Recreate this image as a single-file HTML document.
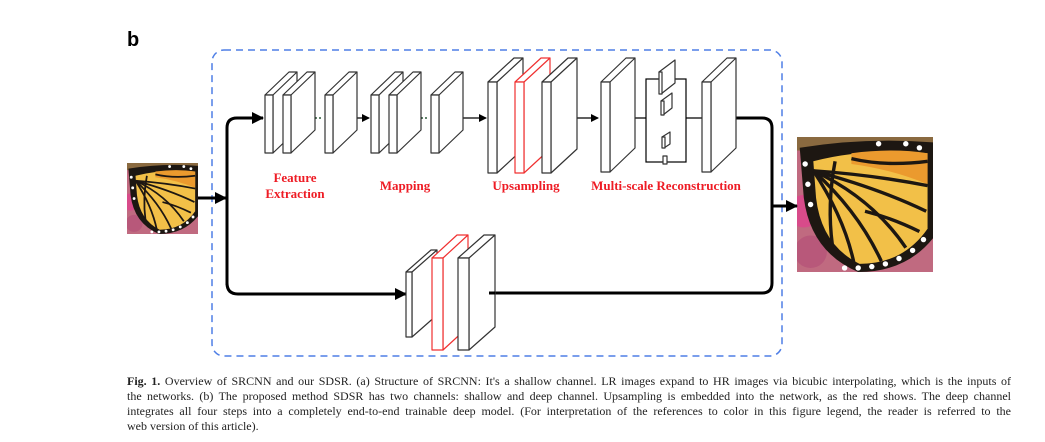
<!DOCTYPE html>
<html><head><meta charset="utf-8"><style>
body{margin:0;background:#fff;width:1045px;height:442px;overflow:hidden;position:relative;font-family:"Liberation Serif",serif}
.cap{position:absolute;left:127px;top:374px;width:884px;font-size:12px;line-height:15px;color:#222}
.cap div{text-align:justify;text-align-last:justify;height:15px;white-space:nowrap}
.cap div.l{text-align-last:left}
</style></head><body>
<svg width="1045" height="442" style="position:absolute;left:0;top:0" xmlns="http://www.w3.org/2000/svg">
<defs>
<symbol id="bf" viewBox="0 0 100 100" preserveAspectRatio="none">
<rect width="100" height="100" fill="#c06a80"/>
<rect x="0" y="0" width="100" height="10" fill="#8a6a40"/>
<circle cx="5" cy="55" r="12" fill="#d84b8a"/>
<circle cx="10" cy="85" r="12" fill="#b8587a"/>
<path d="M2 8 Q50 0 100 4 L100 75 Q80 100 45 100 Q10 85 5 45 Z" fill="#1d1712"/>
<path d="M12 18 Q50 8 96 12 L96 68 Q78 94 46 94 Q18 80 14 45 Z" fill="#f2c048"/>
<path d="M40 12 Q70 8 96 12 L96 35 Q70 24 40 20 Z" fill="#eb9a2e"/>
<g stroke="#1d1712" stroke-width="2.5" fill="none">
<path d="M12 25 Q35 60 42 94"/><path d="M12 25 Q45 55 62 92"/><path d="M12 25 Q55 45 80 82"/><path d="M12 25 Q60 38 95 55"/>
<path d="M12 25 Q55 28 96 36"/><path d="M28 18 Q22 50 26 80"/><path d="M40 16 Q65 22 96 18"/><path d="M50 55 Q70 60 90 70"/>
</g>
<g fill="#fff">
<circle cx="35" cy="97" r="2"/><circle cx="45" cy="97" r="2"/><circle cx="55" cy="96" r="2"/><circle cx="65" cy="94" r="2"/><circle cx="75" cy="90" r="2"/><circle cx="85" cy="84" r="2"/><circle cx="93" cy="76" r="2"/><circle cx="6" cy="20" r="2"/><circle cx="8" cy="35" r="2"/><circle cx="10" cy="50" r="2"/><circle cx="80" cy="5" r="2"/><circle cx="90" cy="8" r="2"/><circle cx="60" cy="5" r="2"/>
</g>
</symbol>
<marker id="ah" markerWidth="8" markerHeight="8" refX="7" refY="4" orient="auto" markerUnits="userSpaceOnUse"><path d="M0 0L8 4L0 8Z" fill="#000"/></marker>
<marker id="ahb" markerWidth="12" markerHeight="12" refX="11" refY="6" orient="auto" markerUnits="userSpaceOnUse"><path d="M0 0L12 6L0 12Z" fill="#000"/></marker>
</defs>
<text x="127" y="46" font-family="Liberation Sans" font-weight="bold" font-size="20">b</text>
<rect x="212" y="50" width="570" height="306" rx="12" fill="none" stroke="#4f7fe6" stroke-width="1.5" stroke-dasharray="7,5"/>
<use href="#bf" x="127" y="163" width="71" height="71"/>
<use href="#bf" x="797" y="137" width="136" height="135"/>
<g stroke="#000" stroke-width="3" fill="none">
<path d="M198 198 H226" marker-end="url(#ahb)"/>
<path d="M227 285 V128 Q227 118 237 118 H263" marker-end="url(#ahb)"/>
<path d="M227 200 V283 Q227 294 238 294 H406" marker-end="url(#ahb)"/>
<path d="M733 118 H762 Q772 118 772 128 V283 Q772 293 762 293 H492"/>
<path d="M772 206 H797" marker-end="url(#ahb)"/>
</g>
<g stroke="#000" stroke-width="1.2" fill="none">
<path d="M351 118 H369" marker-end="url(#ah)"/>
<path d="M459 118 H486" marker-end="url(#ah)"/>
<path d="M568 118 H598" marker-end="url(#ah)"/>
<path d="M630 118 H646 M686 118 H702"/>
<rect x="646" y="79" width="40" height="83"/>
</g>
<g fill="#2e5a3a"><circle cx="312" cy="118" r="1"/><circle cx="316" cy="118" r="1"/><circle cx="320" cy="118" r="1"/><circle cx="418" cy="118" r="1"/><circle cx="422" cy="118" r="1"/><circle cx="426" cy="118" r="1"/></g>
<g fill="#fff" stroke-width="1.2" stroke-linejoin="round">
<g stroke="#333">
<path d="M265 95 L289 72 H297 L273 95 Z M273 95 L297 72 V130 L273 153 Z"/><rect x="265" y="95" width="8" height="58"/>
<path d="M283 95 L307 72 H315 L291 95 Z M291 95 L315 72 V130 L291 153 Z"/><rect x="283" y="95" width="8" height="58"/>
<path d="M325 95 L349 72 H357 L333 95 Z M333 95 L357 72 V130 L333 153 Z"/><rect x="325" y="95" width="8" height="58"/>
<path d="M371 95 L395 72 H403 L379 95 Z M379 95 L403 72 V130 L379 153 Z"/><rect x="371" y="95" width="8" height="58"/>
<path d="M389 95 L413 72 H421 L397 95 Z M397 95 L421 72 V130 L397 153 Z"/><rect x="389" y="95" width="8" height="58"/>
<path d="M431 95 L455 72 H463 L439 95 Z M439 95 L463 72 V130 L439 153 Z"/><rect x="431" y="95" width="8" height="58"/>
<path d="M488 82 L514 58 H523 L497 82 Z M497 82 L523 58 V149 L497 173 Z"/><rect x="488" y="82" width="9" height="91"/>
</g>
<g stroke="#f03030">
<path d="M515 82 L541 58 H550 L524 82 Z M524 82 L550 58 V149 L524 173 Z"/><rect x="515" y="82" width="9" height="91"/>
</g>
<g stroke="#333">
<path d="M542 82 L568 58 H577 L551 82 Z M551 82 L577 58 V149 L551 173 Z"/><rect x="542" y="82" width="9" height="91"/>
<path d="M601 82 L626 58 H635 L610 82 Z M610 82 L635 58 V148 L610 172 Z"/><rect x="601" y="82" width="9" height="90"/>
<path d="M702 82 L727 58 H736 L711 82 Z M711 82 L736 58 V148 L711 172 Z"/><rect x="702" y="82" width="9" height="90"/>
<path d="M659 72 L675 60 V83 L661 94 Z"/><rect x="659" y="72" width="3" height="22"/>
<path d="M661 101 L672 93 V108 L663 115 Z"/><rect x="661" y="101" width="3" height="14"/>
<path d="M662 137 L670 132 V144 L664 148 Z"/><rect x="662" y="137" width="3" height="11"/>
<rect x="663" y="156" width="4" height="8"/>
<path d="M406 272 L431 250 H437 L412 272 Z M412 272 L437 250 V315 L412 337 Z"/><rect x="406" y="272" width="6" height="65"/>
</g>
<g stroke="#f03030">
<path d="M432 258 L457 235 H468 L443 258 Z M443 258 L468 235 V327 L443 350 Z"/><rect x="432" y="258" width="11" height="92"/>
</g>
<g stroke="#333">
<path d="M458 258 L484 235 H495 L469 258 Z M469 258 L495 235 V327 L469 350 Z"/><rect x="458" y="258" width="11" height="92"/>
</g>
</g>
<path d="M489 293 H495" stroke="#000" stroke-width="3"/>
<g fill="#ee1c25" font-family="Liberation Serif" font-weight="bold" font-size="13" text-anchor="middle">
<text x="295" y="182">Feature</text><text x="295" y="198">Extraction</text>
<text x="405" y="190">Mapping</text>
<text x="526" y="190">Upsampling</text>
<text x="666" y="190">Multi-scale Reconstruction</text>
</g>
</svg>
<div class="cap">
<div><b>Fig. 1.</b> Overview of SRCNN and our SDSR. (a) Structure of SRCNN: It's a shallow channel. LR images expand to HR images via bicubic interpolating, which is the inputs of</div>
<div>the networks. (b) The proposed method SDSR has two channels: shallow and deep channel. Upsampling is embedded into the network, as the red shows. The deep channel</div>
<div>integrates all four steps into a completely end-to-end trainable deep model. (For interpretation of the references to color in this figure legend, the reader is referred to the</div>
<div class="l">web version of this article).</div>
</div>
</body></html>
